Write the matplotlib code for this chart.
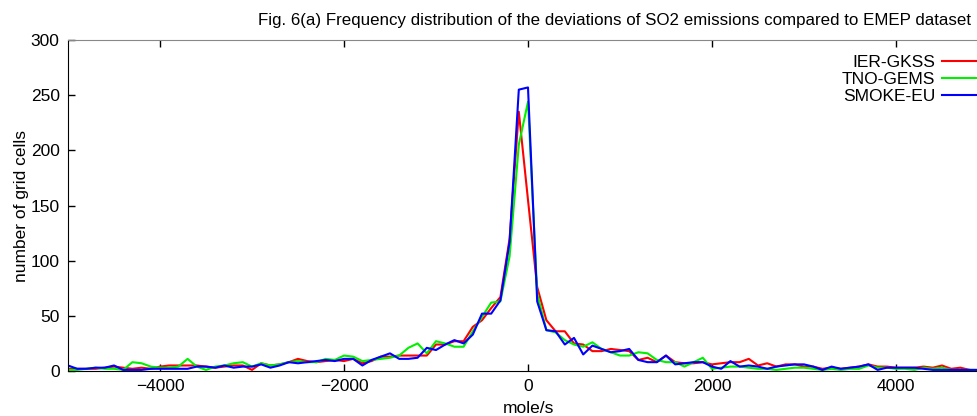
import numpy as np
import matplotlib
matplotlib.use('Agg')
import matplotlib.pyplot as plt

plt.rcParams['font.family'] = ['Liberation Sans', 'DejaVu Sans']

# Bin centres of the deviation histogram (mole/s)
deviation = np.arange(-5000, 5001, 100)

# Number of grid cells per bin for each inventory
ier_gkss = [2, 2, 2, 2, 3, 4, 3, 2, 3, 2,
            4, 5, 5, 5, 5, 4, 3, 4, 5, 5,
            1, 7, 5, 6, 8, 11, 9, 8, 9, 10,
            9, 11, 7, 9, 13, 13, 14, 14, 14, 14,
            24, 24, 27, 27, 40, 46, 57, 67, 120, 235,
            155,
            76, 46, 36, 36, 25, 24, 18, 18, 20, 19,
            18, 10, 12, 8, 14, 8, 7, 7, 8, 6,
            7, 8, 8, 11, 5, 7, 4, 6, 6, 4,
            4, 2, 3, 2, 3, 4, 6, 4, 4, 3,
            3, 3, 4, 3, 5, 2, 3, 1, 0, 1]
tno_gems = [1, 1, 2, 3, 2, 2, 1, 8, 7, 4,
            3, 3, 4, 11, 4, 1, 4, 5, 7, 8,
            4, 7, 5, 6, 8, 9, 8, 8, 11, 10,
            14, 13, 9, 10, 11, 12, 14, 21, 25, 16,
            27, 25, 22, 22, 36, 49, 62, 63, 104, 205,
            244,
            70, 37, 35, 28, 24, 22, 26, 20, 17, 14,
            14, 17, 16, 10, 8, 8, 4, 8, 12, 2,
            3, 4, 4, 3, 2, 2, 1, 2, 3, 3,
            2, 1, 2, 1, 2, 2, 5, 3, 3, 2,
            2, 1, 3, 2, 3, 1, 1, 1, 1, 1]
smoke_eu = [5, 2, 2, 3, 3, 5, 1, 1, 1, 2,
            2, 2, 2, 2, 4, 4, 3, 5, 3, 4,
            4, 6, 3, 5, 8, 7, 8, 9, 10, 9,
            11, 11, 5, 10, 13, 16, 11, 11, 12, 21,
            19, 24, 28, 25, 33, 52, 52, 64, 117, 255,
            257,
            63, 37, 36, 24, 30, 15, 23, 20, 17, 18,
            20, 10, 8, 8, 14, 6, 7, 8, 8, 4,
            2, 9, 4, 5, 4, 2, 4, 5, 6, 6,
            4, 1, 4, 2, 3, 4, 6, 1, 3, 3,
            3, 3, 2, 1, 1, 1, 1, 1, 1, 1]

series = [('IER-GKSS', ier_gkss, '#ff0000'),
          ('TNO-GEMS', tno_gems, '#00f000'),
          ('SMOKE-EU', smoke_eu, '#0000ff')]

fig = plt.figure(figsize=(9.78, 4.16), dpi=100)
# plot box runs slightly past the right edge of the canvas
ax = fig.add_axes([68 / 978, 45 / 416, 920 / 978, 331 / 416])

for name, counts, colour in series:
    ax.plot(deviation, counts, color=colour, lw=1.5, label=name)

ax.set_xlim(-5000, 5000)
ax.set_ylim(0, 300)
ax.set_xticks([-4000, -2000, 0, 2000, 4000])
ax.set_yticks(np.arange(0, 301, 50))
ax.tick_params(direction='in', length=5, width=1, labelsize=12.5,
               top=True, right=True, pad=6)
for side in ['left', 'bottom']:
    ax.spines[side].set_color('black')
ax.spines['top'].set_color('#888888')

ax.set_xlabel('mole/s', fontsize=12.5, labelpad=5)
ax.set_ylabel('number of grid cells', fontsize=12.5, labelpad=1)

fig.text(615 / 978, 1 - 20 / 416,
         'Fig. 6(a) Frequency distribution of the deviations of SO2 emissions compared to EMEP dataset',
         ha='center', va='center', fontsize=12.2)

ax.legend(loc='upper right', bbox_to_anchor=(977 / 978, 1 - 55 / 416),
          bbox_transform=fig.transFigure, frameon=False, markerfirst=False,
          fontsize=12.5, handlelength=2.0, handletextpad=0.4,
          labelspacing=0.1, borderaxespad=0, borderpad=0)

fig.savefig('out.png', dpi=100)
